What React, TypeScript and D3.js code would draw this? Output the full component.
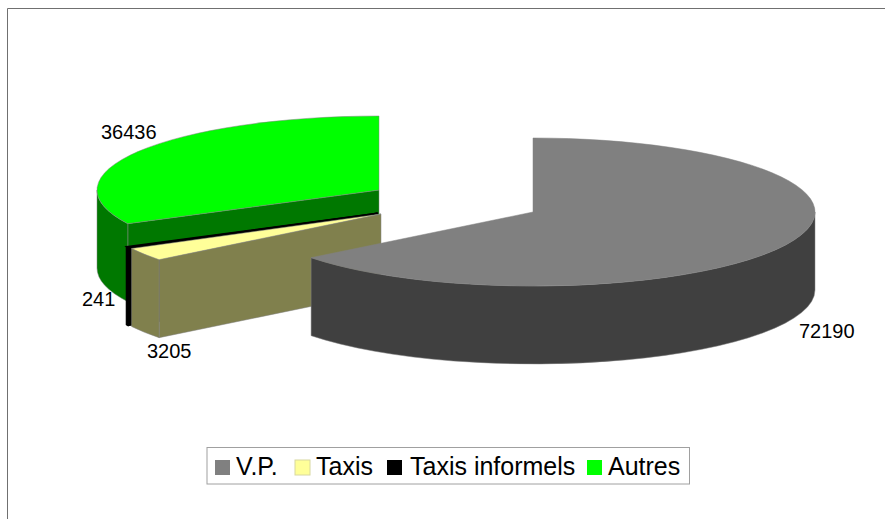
import React from 'react'
import * as d3 from 'd3'

const categories = ['V.P.', 'Taxis', 'Taxis informels', 'Autres']
const values = [72190, 3205, 241, 36436]
const topColors = ['#808080', '#ffff99', '#000000', '#00ff00']
const sideColors = ['#404040', '#80804d', '#000000', '#007800']

const width = 885
const height = 519
const rx = 282
const ry = 74
const depth = 78

// where each exploded slice has its apex
const apexX = [533, 381, 377.5, 379]
const apexY = [212, 214, 213, 190]

// painter's order, back to front
const drawOrder = [3, 2, 1, 0]

const labelPos = [
  { x: 799, y: 338 },
  { x: 147, y: 358 },
  { x: 82, y: 306 },
  { x: 101, y: 139 }
]

const legendX = [215, 295, 387, 587]
const legendTextX = [236, 316, 410, 608]

const slices = d3.pie<number>().sort(null)(values)

const pt = (a: number) => [rx * Math.sin(a), -ry * Math.cos(a)]

function topPath(a0: number, a1: number) {
  const [x0, y0] = pt(a0)
  const [x1, y1] = pt(a1)
  const large = a1 - a0 > Math.PI ? 1 : 0
  return `M0,0L${x0},${y0}A${rx},${ry} 0 ${large} 1 ${x1},${y1}Z`
}

// curved outer wall, only the part facing the viewer (90deg to 270deg)
function wallPath(a0: number, a1: number) {
  const from = Math.max(a0, Math.PI / 2)
  const to = Math.min(a1, (3 * Math.PI) / 2)
  if (to <= from) return ''
  const [x0, y0] = pt(from)
  const [x1, y1] = pt(to)
  return `M${x0},${y0}A${rx},${ry} 0 0 1 ${x1},${y1}L${x1},${y1 + depth}A${rx},${ry} 0 0 0 ${x0},${y0 + depth}Z`
}

// flat cut face running from the apex to the rim, pushed down by depth
function cutPath(a: number) {
  const [x, y] = pt(a)
  return `M0,0L${x},${y}L${x},${y + depth}L0,${depth}Z`
}

export default function App() {
  return (
    <svg
      width={width}
      height={height}
      style={{ position: 'absolute', left: 0, top: 0 }}
      fontFamily="'Liberation Sans', Arial, sans-serif"
    >
      <rect width={width} height={height} fill="#fff" />
      <path d={`M7.5,${height}V8.5H${width}`} fill="none" stroke="#707070" />

      {drawOrder.map(i => {
        const s = slices[i]
        const side = sideColors[i]
        const edge = i === 2 ? '#000' : '#808080'
        return (
          <g
            key={categories[i]}
            transform={`translate(${apexX[i]},${apexY[i]})`}
            stroke={edge}
            strokeWidth={i === 2 ? 1.2 : 0.5}
          >
            {i !== 0 && <path d={cutPath(s.startAngle)} fill={side} />}
            <path d={wallPath(s.startAngle, s.endAngle)} fill={side} />
            <path d={topPath(s.startAngle, s.endAngle)} fill={topColors[i]} />
          </g>
        )
      })}

      {categories.map((c, i) => (
        <text key={c} x={labelPos[i].x} y={labelPos[i].y} fontSize={20} fill="#000">
          {values[i]}
        </text>
      ))}

      <rect x={207} y={447.5} width={482.5} height={36.5} fill="#fff" stroke="#a0a0a0" />
      {categories.map((c, i) => (
        <g key={c}>
          <rect x={legendX[i]} y={460} width={15} height={15} fill={topColors[i]} stroke={i === 1 ? '#d8d8a0' : 'none'} />
          <text x={legendTextX[i]} y={475} fontSize={25} fill="#000">
            {c}
          </text>
        </g>
      ))}
    </svg>
  )
}
